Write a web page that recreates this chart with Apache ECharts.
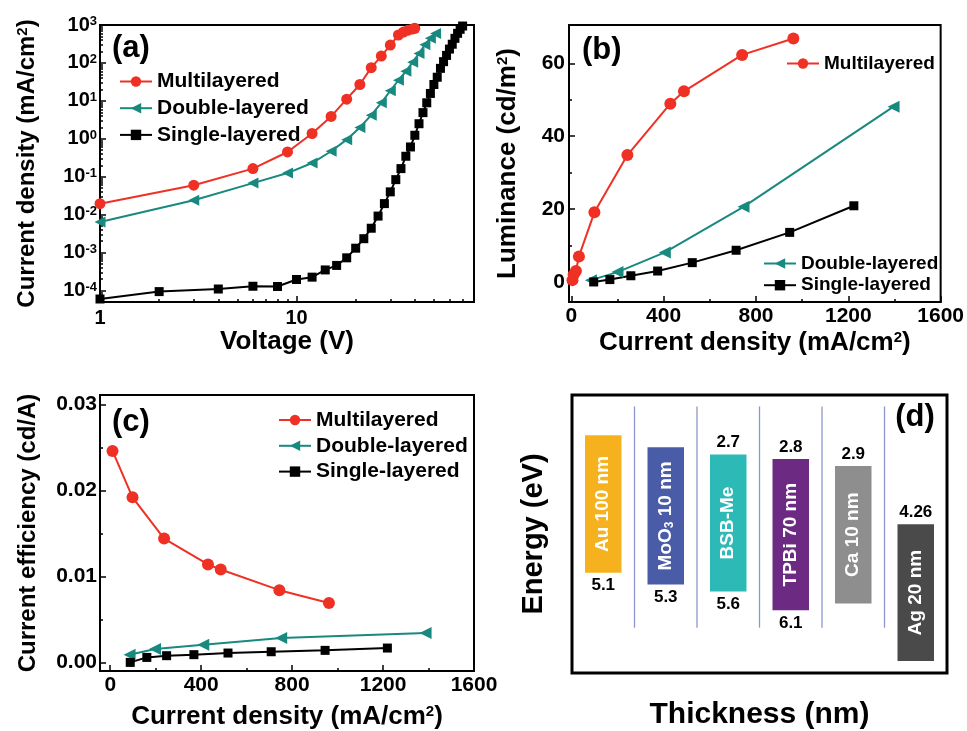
<!DOCTYPE html>
<html><head><meta charset="utf-8">
<script src="https://cdn.jsdelivr.net/npm/echarts@6/dist/echarts.min.js"></script>
<style>html,body{margin:0;padding:0;background:#fff}#c{width:967px;height:731px}</style>
</head><body><div id="c"></div>
<script>
// ---------- Panel (a): current density vs voltage (log-log) ----------
const multiV = [1,3,6,9,12,15,18,21,24,27,30,33,35,37,39,40];
const multiJ = [0.0195,0.06,0.164,0.45,1.38,3.9,11.1,27,75,152,296,545,650,730,790,820];
const doubleV = [1,3,6,9,12,15,18,21,24,27,30,33,36,39,42,45,48,51];
const doubleJ = [0.0064,0.024,0.068,0.125,0.23,0.47,0.95,2.0,4.2,8.9,18.5,35,60,105,178,300,450,600];
const singleV = [1,2,4,6,8,10,12,14,16,18,20,22,24,26,28,30,32,34,36,38,40,42,44,46,48,50,52,54,56,58,60,62,64,66,68,70];
const singleJ = [6.0e-5,9.4e-5,1.1e-4,1.3e-4,1.28e-4,1.96e-4,2.26e-4,3.5e-4,4.6e-4,7.3e-4,1.31e-3,2.33e-3,4.4e-3,9.2e-3,0.0196,0.040,0.084,0.164,0.347,0.61,1.24,2.5,4.9,8.9,15.7,27,42,72,108,158,232,311,445,603,770,940];
const aXTicks = [1, 10];
const aYTicks = [1e-4, 1e-3, 1e-2, 1e-1, 1, 10, 100, 1000];

// ---------- Panel (b): luminance vs current density ----------
const lumMultiJ = [5, 10, 20, 33, 100, 243, 429, 488, 740, 962];
const lumMulti = [0.5, 2.0, 3.0, 7.0, 19.1, 34.8, 48.9, 52.3, 62.3, 66.8];
const lumDoubleJ = [85, 200, 405, 746, 1396];
const lumDouble = [0.5, 2.7, 8.1, 20.6, 48.1];
const lumSingleJ = [97, 167, 258, 374, 524, 714, 946, 1224];
const lumSingle = [0, 0.65, 1.7, 3.0, 5.3, 8.7, 13.6, 20.9];
const bXTicks = [0, 400, 800, 1200, 1600];
const bYTicks = [0, 20, 40, 60];

// ---------- Panel (c): current efficiency vs current density ----------
const ceMultiJ = [10, 98, 237, 430, 486, 744, 962];
const ceMulti = [0.0246, 0.0192, 0.0144, 0.0114, 0.0108, 0.0084, 0.0069];
const ceDoubleJ = [85, 197, 409, 752, 1387];
const ceDouble = [0.0009, 0.00156, 0.00206, 0.00284, 0.00342];
const ceSingleJ = [88, 161, 248, 368, 518, 708, 945, 1219];
const ceSingle = [0.0000, 0.00058, 0.00078, 0.0009, 0.00109, 0.00124, 0.0014, 0.00167];
const cXTicks = [0, 400, 800, 1200, 1600];
const cYTicks = [0, 0.01, 0.02, 0.03];

// ---------- Panel (d): energy-level schematic ----------
const layerNames = ['Au 100 nm', 'MoO{sub|3} 10 nm', 'BSB-Me', 'TPBi 70 nm', 'Ca 10 nm', 'Ag 20 nm'];
const levelTop = [2.28, 2.54, 2.70, 2.80, 2.95, 4.22];
const levelBottom = [5.28, 5.54, 5.69, 6.10, 5.95, 7.21];
const topLabels = ['', '', '2.7', '2.8', '2.9', '4.26'];
const bottomLabels = ['5.1', '5.3', '5.6', '6.1', '', ''];
const layerColors = ['#F6B21E', '#4A5BA8', '#2DBAB6', '#6C2A82', '#8E8E8E', '#4A4A4A'];

const FONT = '"Liberation Sans", Arial, Helvetica, sans-serif';
const RED = '#EE3124', TEAL = '#18897F', BLK = '#000000';

function minorLog(lo, hi) {
  const out = [];
  for (let e = Math.floor(Math.log10(lo)); e <= Math.ceil(Math.log10(hi)); e++) {
    for (let m = 2; m <= 9; m++) { const v = m * Math.pow(10, e); if (v >= lo && v <= hi) out.push(v); }
  }
  return out;
}

function ser(name, xs, ys, color, symbol, size, rot, ai) {
  return {
    type: 'line', name, xAxisIndex: ai, yAxisIndex: ai,
    data: xs.map((x, i) => [x, ys[i]]),
    symbol, symbolSize: size, symbolRotate: rot, showSymbol: true, showAllSymbol: true,
    itemStyle: { color }, lineStyle: { color, width: 2 }, emphasis: { disabled: true }
  };
}

const supRich = { s: { fontSize: 13, fontWeight: 'bold', fontFamily: FONT, color: '#000', verticalAlign: 'top' } };
const nameRich = { s: { fontSize: 15, fontWeight: 'bold', fontFamily: FONT, color: '#000', verticalAlign: 'top' } };

function mainAxis(o) {
  return {
    gridIndex: o.g, position: o.pos, min: o.min, max: o.max, type: o.type || 'value',
    axisLine: { show: true, onZero: false, lineStyle: { color: '#000', width: 2 } },
    axisTick: { show: true, inside: true, length: 6, customValues: o.ticks, lineStyle: { color: '#000', width: 1.5 } },
    axisLabel: { show: true, customValues: o.ticks, formatter: o.fmt, margin: o.margin || 4, color: '#000',
      fontSize: o.fs || 21, fontWeight: 'bold', fontFamily: FONT, rich: o.rich },
    splitLine: { show: false },
    name: o.name, nameLocation: 'middle', nameGap: o.gap,
    nameTextStyle: { fontSize: o.nfs || 26, fontWeight: 'bold', fontFamily: FONT, color: '#000', rich: nameRich }
  };
}
function minorAxis(o) {
  return {
    gridIndex: o.g, position: o.pos, min: o.min, max: o.max, type: o.type || 'value',
    axisLine: { show: false, onZero: false },
    axisTick: { show: true, inside: true, length: 3, customValues: o.ticks, lineStyle: { color: '#000', width: 1.5 } },
    axisLabel: { show: false }, splitLine: { show: false }
  };
}

const aXMin = 1, aXMax = 80, aYMin = 5e-5, aYMax = 1000;
const bXMin = -10, bXMax = 1600, bYMin = -5.5, bYMax = 70.5;
const cXMin = -45, cXMax = 1600, cYMin = -0.001, cYMax = 0.0311;

function legend(names, left, top, gap, fs) {
  return { data: names, left, top, orient: 'vertical', itemGap: gap, itemWidth: 32, itemHeight: 13,
    padding: 0, selectedMode: false,
    textStyle: { fontSize: fs, fontWeight: 'bold', fontFamily: FONT, color: '#000' } };
}

const option = {
  animation: false,
  backgroundColor: '#fff',
  grid: [
    { left: 100, top: 25, width: 374, height: 277, show: true, borderColor: '#000', borderWidth: 2 },
    { left: 569, top: 25, width: 375, height: 277, show: true, borderColor: '#000', borderWidth: 2 },
    { left: 100, top: 395, width: 374, height: 277, show: true, borderColor: '#000', borderWidth: 2 },
    { left: 572, top: 395, width: 375, height: 278, show: true, borderColor: '#000', borderWidth: 3 }
  ],
  xAxis: [
    mainAxis({ g: 0, pos: 'bottom', type: 'log', min: aXMin, max: aXMax, ticks: aXTicks, fs: 20, margin: 6,
      fmt: v => String(Math.round(v)), name: 'Voltage (V)', gap: 25 }),
    minorAxis({ g: 0, pos: 'bottom', type: 'log', min: aXMin, max: aXMax, ticks: minorLog(aXMin, aXMax) }),
    mainAxis({ g: 1, pos: 'bottom', min: bXMin, max: bXMax, ticks: bXTicks, fmt: v => String(v),
      name: 'Current density (mA/cm{s|2})', gap: 28 }),
    minorAxis({ g: 1, pos: 'bottom', min: bXMin, max: bXMax, ticks: [200, 600, 1000, 1400] }),
    mainAxis({ g: 2, pos: 'bottom', min: cXMin, max: cXMax, ticks: cXTicks, fmt: v => String(v),
      name: 'Current density (mA/cm{s|2})', gap: 33 }),
    minorAxis({ g: 2, pos: 'bottom', min: cXMin, max: cXMax, ticks: [200, 600, 1000, 1400] }),
    { gridIndex: 3, type: 'category', data: layerNames, boundaryGap: true,
      axisLine: { show: false }, axisTick: { show: false }, axisLabel: { show: false }, splitLine: { show: false },
      name: 'Thickness (nm)', nameLocation: 'middle', nameGap: 27,
      nameTextStyle: { fontSize: 30, fontWeight: 'bold', fontFamily: FONT, color: '#000' } }
  ],
  yAxis: [
    mainAxis({ g: 0, pos: 'left', type: 'log', min: aYMin, max: aYMax, ticks: aYTicks, fs: 20, margin: 3,
      fmt: v => '10{s|' + Math.round(Math.log10(v)) + '}', rich: supRich,
      name: 'Current density (mA/cm{s|2})', gap: 61, nfs: 24 }),
    minorAxis({ g: 0, pos: 'left', type: 'log', min: aYMin, max: aYMax, ticks: minorLog(aYMin, aYMax) }),
    mainAxis({ g: 1, pos: 'left', min: bYMin, max: bYMax, ticks: bYTicks, fmt: v => String(v), margin: 4,
      name: 'Luminance (cd/m{s|2})', gap: 48 }),
    minorAxis({ g: 1, pos: 'left', min: bYMin, max: bYMax, ticks: [10, 30, 50] }),
    mainAxis({ g: 2, pos: 'left', min: cYMin, max: cYMax, ticks: cYTicks, fmt: v => v.toFixed(2), margin: 3,
      name: 'Current efficiency (cd/A)', gap: 60, nfs: 24 }),
    minorAxis({ g: 2, pos: 'left', min: cYMin, max: cYMax, ticks: [0.005, 0.015, 0.025] }),
    { gridIndex: 3, type: 'value', min: 1.4, max: 7.47, inverse: true,
      axisLine: { show: false }, axisTick: { show: false }, axisLabel: { show: false }, splitLine: { show: false },
      name: 'Energy (eV)', nameLocation: 'middle', nameGap: 24,
      nameTextStyle: { fontSize: 29, fontWeight: 'bold', fontFamily: FONT, color: '#000' } }
  ],
  legend: [
    legend(['Multilayered', 'Double-layered', 'Single-layered'], 119, 71, 5.7, 21),
    legend(['Multilayered'], 786, 54, 5, 19),
    legend(['Double-layered', 'Single-layered'], 763, 254, 2.7, 19),
    legend(['Multilayered', 'Double-layered', 'Single-layered'], 278, 409.5, 4.8, 21)
  ],
  graphic: [
    { type: 'text', x: 112, y: 48, style: { text: '(a)', fill: '#000', font: 'bold 31px ' + FONT, align: 'left', verticalAlign: 'middle' } },
    { type: 'text', x: 582, y: 50, style: { text: '(b)', fill: '#000', font: 'bold 31px ' + FONT, align: 'left', verticalAlign: 'middle' } },
    { type: 'text', x: 112, y: 422, style: { text: '(c)', fill: '#000', font: 'bold 31px ' + FONT, align: 'left', verticalAlign: 'middle' } },
    { type: 'text', x: 915, y: 417, style: { text: '(d)', fill: '#000', font: 'bold 31px ' + FONT, align: 'center', verticalAlign: 'middle' } }
  ],
  series: [
    ser('Multilayered', multiV, multiJ, RED, 'circle', 11, 0, 0),
    ser('Double-layered', doubleV, doubleJ, TEAL, 'triangle', 11, 90, 0),
    ser('Single-layered', singleV, singleJ, BLK, 'rect', 9, 0, 0),
    ser('Multilayered', lumMultiJ, lumMulti, RED, 'circle', 12, 0, 2),
    ser('Double-layered', lumDoubleJ, lumDouble, TEAL, 'triangle', 12, 90, 2),
    ser('Single-layered', lumSingleJ, lumSingle, BLK, 'rect', 9, 0, 2),
    ser('Multilayered', ceMultiJ, ceMulti, RED, 'circle', 12, 0, 4),
    ser('Double-layered', ceDoubleJ, ceDouble, TEAL, 'triangle', 12, 90, 4),
    ser('Single-layered', ceSingleJ, ceSingle, BLK, 'rect', 9, 0, 4),
    {
      type: 'custom', xAxisIndex: 6, yAxisIndex: 6, clip: false,
      data: layerNames.map((n, i) => [i, levelTop[i], levelBottom[i]]),
      encode: { x: 0, y: [1, 2] },
      renderItem: (params, api) => {
        const i = api.value(0), top = api.value(1), bot = api.value(2);
        const a = api.coord([i, top]), b = api.coord([i, bot]);
        const band = api.size([1, 0])[0];
        const bw = band * 0.584;
        const children = [
          { type: 'rect', shape: { x: a[0] - bw / 2, y: a[1], width: bw, height: b[1] - a[1] }, style: { fill: layerColors[i] } },
          { type: 'text', x: a[0], y: (a[1] + b[1]) / 2, rotation: Math.PI / 2,
            style: { text: layerNames[i], fill: '#fff', fontSize: 19, fontWeight: 'bold', fontFamily: FONT,
              align: 'center', verticalAlign: 'middle',
              rich: { sub: { fontSize: 12, fontWeight: 'bold', fontFamily: FONT, fill: '#fff', verticalAlign: 'bottom' } } } }
        ];
        if (topLabels[i]) children.push({ type: 'text', x: a[0], y: a[1] - 12,
          style: { text: topLabels[i], fill: '#000', fontSize: 17, fontWeight: 'bold', fontFamily: FONT, align: 'center', verticalAlign: 'middle' } });
        if (bottomLabels[i]) children.push({ type: 'text', x: a[0], y: b[1] + 13,
          style: { text: bottomLabels[i], fill: '#000', fontSize: 17, fontWeight: 'bold', fontFamily: FONT, align: 'center', verticalAlign: 'middle' } });
        if (i < layerNames.length - 1) {
          const t = api.coord([i, 1.65]), u = api.coord([i, 6.48]);
          children.push({ type: 'line', shape: { x1: a[0] + band / 2, y1: t[1], x2: a[0] + band / 2, y2: u[1] },
            style: { stroke: '#8D97CB', lineWidth: 1.3 } });
        }
        return { type: 'group', children };
      }
    }
  ]
};

const chart = echarts.init(document.getElementById('c'), null, { renderer: 'canvas' });
chart.setOption(option);
</script>
</body></html>
